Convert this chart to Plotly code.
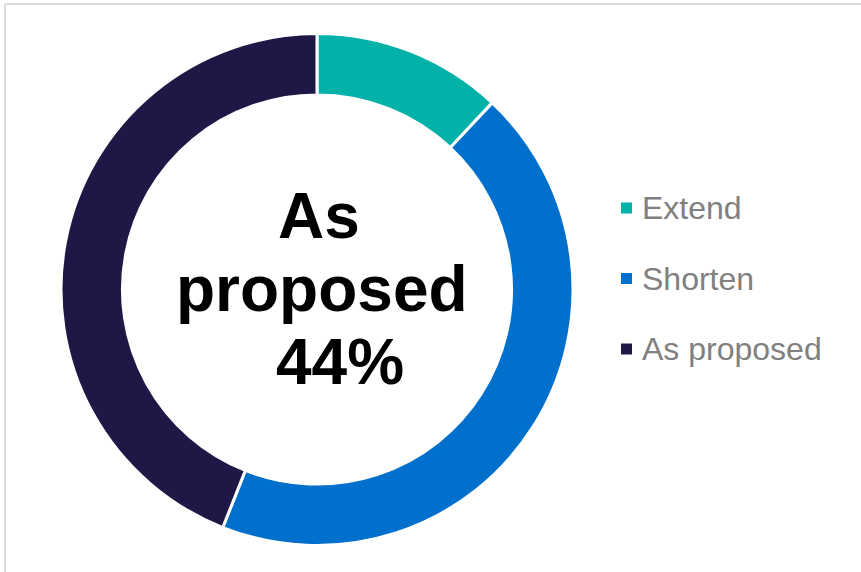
import plotly.graph_objects as go

# Survey responses on the proposed period
labels = ["Extend", "Shorten", "As proposed"]
values = [12, 44, 44]
colors = ["#02B2A8", "#0070CC", "#201747"]

headline_label = "As proposed"
headline_value = values[labels.index(headline_label)]

W, H = 861, 572

fig = go.Figure()
fig.add_trace(go.Pie(
    labels=labels,
    values=values,
    hole=0.76,
    sort=False,
    direction="clockwise",
    rotation=0,
    marker=dict(colors=colors, line=dict(color="white", width=3)),
    textinfo="none",
    hoverinfo="label+percent",
    showlegend=False,
    domain=dict(x=[61 / W, 573 / W], y=[1 - 546 / H, 1 - 33 / H]),
))

# Helpers converting pixel positions to paper coordinates
def px(x):
    return x / W

def py(y):
    return 1 - y / H

annotations = []
shapes = []

# Centre headline
centre_font = dict(family="Liberation Sans, Arial, sans-serif", size=64, color="black", weight="bold")
for text, cx, cy in [
    ("As", 319, 216),
    ("proposed", 322, 289),
    (f"{headline_value}%", 340, 362),
]:
    annotations.append(dict(
        text=text, x=px(cx), y=py(cy), xref="paper", yref="paper",
        xanchor="center", yanchor="middle", showarrow=False, font=centre_font,
    ))

# Legend built from squares and labels
legend_font = dict(family="Liberation Sans, Arial, sans-serif", size=32, color="#808080")
for i, (lab, col) in enumerate(zip(labels, colors)):
    cy = 208 + i * 70.5
    shapes.append(dict(
        type="rect", xref="paper", yref="paper",
        x0=px(621), x1=px(632), y0=py(cy - 5.5), y1=py(cy + 5.5),
        fillcolor=col, line=dict(width=0),
    ))
    annotations.append(dict(
        text=lab, x=px(640), y=py(cy), xref="paper", yref="paper",
        xanchor="left", yanchor="middle", showarrow=False, font=legend_font,
    ))

# Frame lines along the top and left edges
frame = dict(color="#D9D9D9", width=2)
shapes.append(dict(type="line", xref="paper", yref="paper",
                   x0=px(5), x1=1, y0=py(4), y1=py(4), line=frame))
shapes.append(dict(type="line", xref="paper", yref="paper",
                   x0=px(5), x1=px(5), y0=py(4), y1=0, line=frame))

fig.update_layout(
    width=W, height=H,
    margin=dict(l=0, r=0, t=0, b=0),
    paper_bgcolor="white",
    plot_bgcolor="white",
    annotations=annotations,
    shapes=shapes,
)

fig.write_html("out.html")
